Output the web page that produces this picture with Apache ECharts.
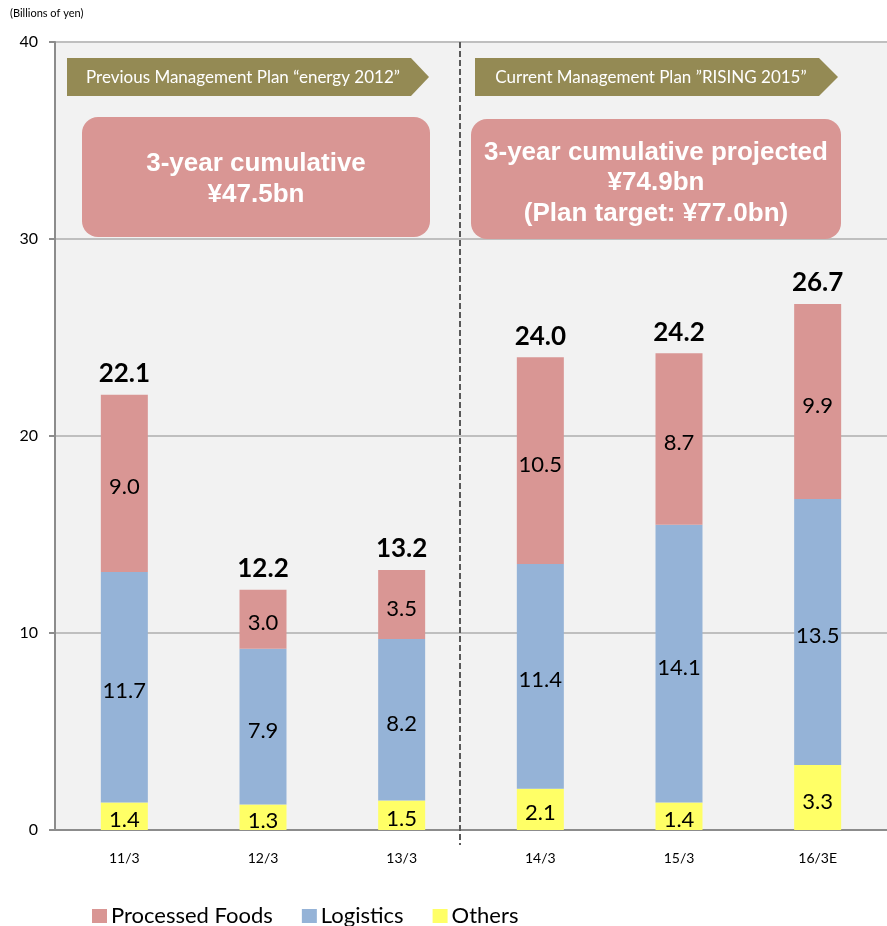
<!DOCTYPE html>
<html>
<head>
<meta charset="utf-8">
<script src="https://cdn.jsdelivr.net/npm/echarts@6/dist/echarts.min.js"></script>
<style>
  html, body { margin: 0; padding: 0; background: #fff; }
  #chart { width: 887px; height: 926px; }
</style>
</head>
<body>
<div id="chart"></div>
<script>
// Fiscal years (March year-end)
const categories = ['11/3', '12/3', '13/3', '14/3', '15/3', '16/3E'];
// Segment values, billions of yen
const others = [1.4, 1.3, 1.5, 2.1, 1.4, 3.3];
const logistics = [11.7, 7.9, 8.2, 11.4, 14.1, 13.5];
const processedFoods = [9.0, 3.0, 3.5, 10.5, 8.7, 9.9];
const yTicks = [0, 10, 20, 30, 40];

const totals = categories.map((_, i) =>
  Math.round((others[i] + logistics[i] + processedFoods[i]) * 10) / 10);

const bodyFont = 'Lato';
const boxFont = '"Liberation Sans", Arial, sans-serif';

const insideLabel = {
  show: true,
  position: 'inside',
  offset: [0, 4],
  color: '#000',
  fontFamily: bodyFont,
  fontSize: 22,
  formatter: p => p.value.toFixed(1)
};

function segment(name, data, color) {
  return {
    name: name,
    type: 'bar',
    stack: 'total',
    barWidth: 47,
    data: data,
    itemStyle: { color: color },
    label: insideLabel,
    emphasis: { disabled: true }
  };
}

const chart = echarts.init(document.getElementById('chart'), null, { renderer: 'canvas' });

chart.setOption({
  animation: false,
  backgroundColor: '#ffffff',
  grid: {
    left: 55, top: 42, width: 840, height: 788,
    show: true, backgroundColor: '#f2f2f2', borderWidth: 0
  },
  legend: {
    left: 92, top: 905, padding: 0,
    itemWidth: 15, itemHeight: 14, itemGap: 29,
    icon: 'rect',
    data: ['Processed Foods', 'Logistics', 'Others'],
    textStyle: { fontFamily: bodyFont, fontSize: 22, color: '#000', padding: [0, 0, 0, -1] }
  },
  xAxis: {
    type: 'category',
    data: categories,
    axisLine: { lineStyle: { color: '#8c8c8c', width: 2 } },
    axisTick: { inside: true, length: 5, lineStyle: { color: '#8c8c8c', width: 2 } },
    axisLabel: { margin: 21, fontFamily: bodyFont, fontSize: 14, color: '#000' }
  },
  yAxis: {
    type: 'value',
    min: yTicks[0], max: yTicks[yTicks.length - 1], interval: 10,
    axisLine: { show: true, lineStyle: { color: '#8c8c8c', width: 2 } },
    axisTick: { show: true, length: 6, lineStyle: { color: '#8c8c8c', width: 2 } },
    axisLabel: { margin: 17, fontFamily: bodyFont, fontSize: 16, color: '#000' },
    splitLine: { lineStyle: { color: '#bfbfbf', width: 2 } }
  },
  series: [
    segment('Others', others, '#ffff66'),
    segment('Logistics', logistics, '#95b3d7'),
    segment('Processed Foods', processedFoods, '#d99694'),
    {
      // zero-height cap that carries the total above each stack
      name: 'Total',
      type: 'bar',
      stack: 'total',
      barWidth: 47,
      data: categories.map(() => 0),
      itemStyle: { color: 'transparent' },
      label: {
        show: true,
        position: 'top',
        distance: 8,
        color: '#000',
        fontFamily: bodyFont,
        fontWeight: 'bold',
        fontSize: 26,
        formatter: p => totals[p.dataIndex].toFixed(1)
      },
      emphasis: { disabled: true }
    }
  ],
  graphic: [
    {
      type: 'text', left: 10, top: 8,
      style: { text: '(Billions of yen)', font: '11px Lato', fill: '#000' }
    },
    {
      // divider between the two management plans
      type: 'line', z: 10,
      shape: { x1: 460, y1: 42, x2: 460, y2: 845 },
      style: { stroke: '#595959', lineWidth: 2, lineDash: [6, 3] }
    },
    {
      type: 'polygon', z: 10,
      shape: { points: [[67, 58], [411, 58], [429, 77], [411, 96], [67, 96]] },
      style: { fill: '#948a54' }
    },
    {
      type: 'text', z: 11,
      style: {
        text: 'Previous Management Plan “energy 2012”',
        x: 243, y: 78, align: 'center', verticalAlign: 'middle',
        font: '17px Lato', fill: '#ffffff'
      }
    },
    {
      type: 'polygon', z: 10,
      shape: { points: [[475, 58], [819, 58], [838, 77], [819, 96], [475, 96]] },
      style: { fill: '#948a54' }
    },
    {
      type: 'text', z: 11,
      style: {
        text: 'Current Management Plan ”RISING 2015”',
        x: 651, y: 78, align: 'center', verticalAlign: 'middle',
        font: '17px Lato', fill: '#ffffff'
      }
    },
    {
      type: 'rect', z: 10,
      shape: { x: 82, y: 117, width: 348, height: 120, r: 16 },
      style: { fill: '#d99694' }
    },
    {
      type: 'text', z: 11,
      style: {
        text: '3-year cumulative\n¥47.5bn',
        x: 256, y: 179, align: 'center', verticalAlign: 'middle',
        font: 'bold 26px ' + boxFont, lineHeight: 31, fill: '#ffffff'
      }
    },
    {
      type: 'rect', z: 10,
      shape: { x: 471, y: 119, width: 370, height: 120, r: 16 },
      style: { fill: '#d99694' }
    },
    {
      type: 'text', z: 11,
      style: {
        text: '3-year cumulative projected\n¥74.9bn\n(Plan target: ¥77.0bn)',
        x: 656, y: 183, align: 'center', verticalAlign: 'middle',
        font: 'bold 26px ' + boxFont, lineHeight: 30.5, fill: '#ffffff'
      }
    }
  ]
});
</script>
</body>
</html>
